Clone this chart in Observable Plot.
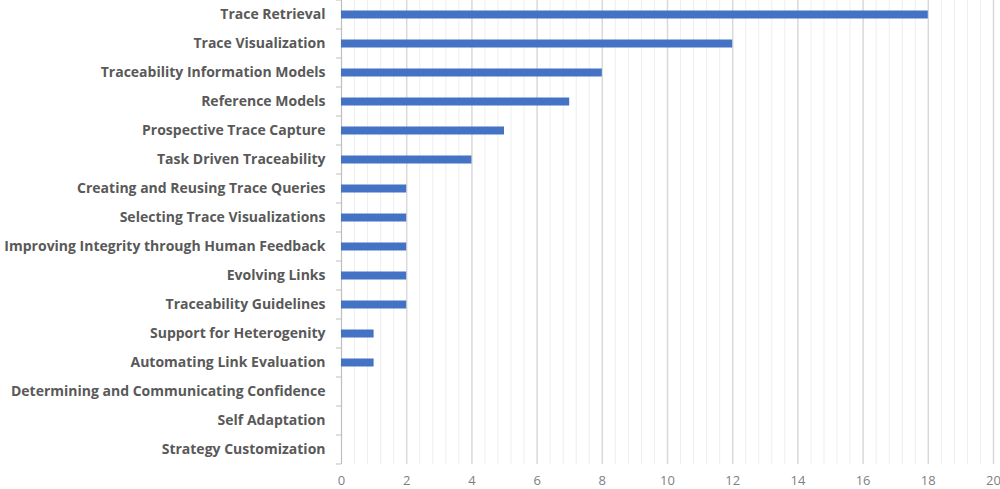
<!DOCTYPE html>
<html>
<head>
<meta charset="utf-8">
<script src="https://cdn.jsdelivr.net/npm/d3@7"></script>
<script src="https://cdn.jsdelivr.net/npm/@observablehq/plot@0.6"></script>
<style>
  html, body { margin: 0; padding: 0; background: #fff; }
  #chart svg { display: block; overflow: visible; }
</style>
</head>
<body>
<div id="chart"></div>
<script>
const categories = [
  "Trace Retrieval",
  "Trace Visualization",
  "Traceability Information Models",
  "Reference Models",
  "Prospective Trace Capture",
  "Task Driven Traceability",
  "Creating and Reusing Trace Queries",
  "Selecting Trace Visualizations",
  "Improving Integrity through Human Feedback",
  "Evolving Links",
  "Traceability Guidelines",
  "Support for Heterogenity",
  "Automating Link Evaluation",
  "Determining and Communicating Confidence",
  "Self Adaptation",
  "Strategy Customization"
];
const counts = [18, 12, 8, 7, 5, 4, 2, 2, 2, 2, 2, 1, 1, 0, 0, 0];
const majorTicks = [0, 2, 4, 6, 8, 10, 12, 14, 16, 18, 20];
const minorTicks = d3.range(0, 101).map(i => i * 0.2).filter((v, i) => i % 2 === 0 && i % 10 !== 0);

const data = categories.map((c, i) => ({category: c, value: counts[i]}));

const W = 1000, H = 489;
const chart = Plot.plot({
  width: W,
  height: H,
  marginLeft: 341,
  marginRight: 7,
  marginTop: 0,
  marginBottom: 25,
  style: {fontFamily: "'Open Sans', Lato, sans-serif", background: "#fff"},
  x: {domain: [0, 20], ticks: majorTicks, label: null},
  y: {domain: categories, padding: 0, label: null},
  marks: [
    Plot.ruleX(minorTicks, {stroke: "#eeeeee", strokeWidth: 1}),
    Plot.ruleX(majorTicks.filter(d => d > 0), {stroke: "#d9d9d9", strokeWidth: 1.5}),
    Plot.ruleX([0], {stroke: "#bfbfbf", strokeWidth: 1.2}),
    Plot.barX(data, {x: "value", y: "category", fill: "#4472C4", insetTop: 10.5, insetBottom: 10.5}),
    Plot.axisX({ticks: majorTicks, tickSize: 0, tickPadding: 11, fontSize: 13, color: "#7f7f7f", label: null}),
    Plot.axisY({tickSize: 0, tickPadding: 16, fontSize: 14, fontWeight: 700, color: "#595959", label: null})
  ]
});
document.getElementById("chart").appendChild(chart);

// small tick marks at band boundaries on the y axis line
const ys = chart.scale("y");
const xs = chart.scale("x");
const x0 = xs.apply(0);
const step = ys.step !== undefined ? ys.step : ys.bandwidth;
const bounds = categories.map(c => ys.apply(c)).concat([ys.apply(categories[categories.length - 1]) + step]);
d3.select(chart).append("g")
  .selectAll("line")
  .data(bounds)
  .join("line")
  .attr("x1", x0 - 5)
  .attr("x2", x0)
  .attr("y1", d => d)
  .attr("y2", d => d)
  .attr("stroke", "#bfbfbf")
  .attr("stroke-width", 1);
</script>
</body>
</html>
